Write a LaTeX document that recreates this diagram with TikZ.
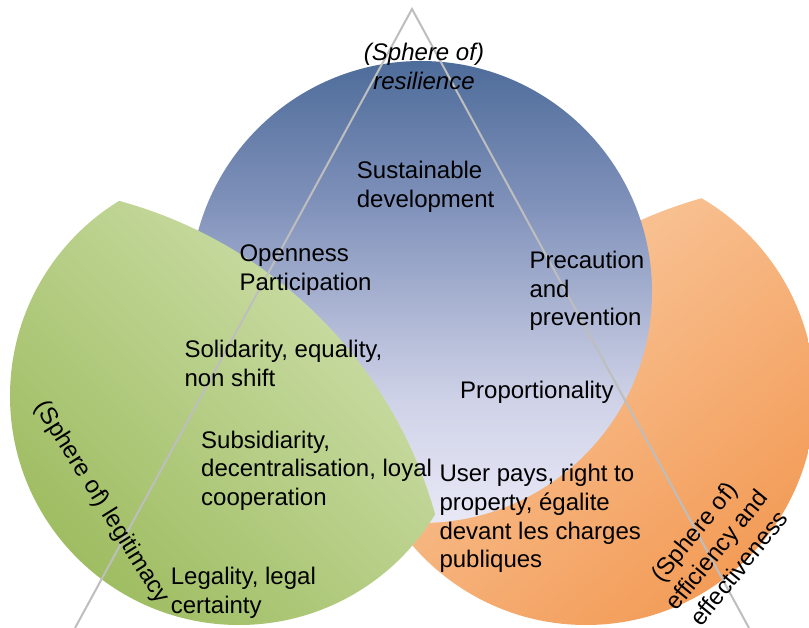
\documentclass[tikz,border=0pt]{standalone}
\usepackage{fontspec}
\setmainfont{Liberation Sans}
\definecolor{blA}{HTML}{4E6C9A}
\definecolor{blB}{HTML}{7E90B9}
\definecolor{blC}{HTML}{A8B2D1}
\definecolor{blD}{HTML}{D0D3E8}
\definecolor{blE}{HTML}{E8E8F6}
\definecolor{gdark}{HTML}{9FBD62}
\definecolor{glight}{HTML}{D3E3B3}
\definecolor{olight}{HTML}{FACFA8}
\definecolor{odark}{HTML}{F39C58}
\definecolor{trigray}{HTML}{BEBEBE}
\pgfdeclareverticalshading{bluesh}{100bp}{color(0bp)=(blE); color(25bp)=(blE); color(38bp)=(blD); color(49bp)=(blC); color(60bp)=(blB); color(75bp)=(blA); color(100bp)=(blA)}
\newcommand{\mlines}[1]{\begin{tabular}[t]{@{}l@{}}#1\end{tabular}}
\newcommand{\mlinesc}[1]{\begin{tabular}[t]{@{}c@{}}#1\end{tabular}}
\begin{document}
\begin{tikzpicture}[x=1pt,y=-1pt,
  lbl/.style={font=\fontsize{24}{28.7}\selectfont, inner sep=0pt, anchor=base west},
  lblc/.style={font=\fontsize{24}{28.7}\selectfont, inner sep=0pt, anchor=center},
  tri/.style={draw=trigray, line width=2pt, line join=miter}]
\useasboundingbox (0,0) rectangle (809,628);
\fill[white] (0,0) rectangle (809,628);
% orange sphere (efficiency)
\begin{scope}
  \clip (826,637) circle (456);
  \shade[top color=olight, bottom color=odark, shading angle=40] (586,396) circle (229);
\end{scope}
% blue sphere (resilience)
\shade[shading=bluesh] (421,292) circle (231);
% green sphere (legitimacy)
\begin{scope}
  \clip (0,637) circle (452);
  \shade[top color=glight, bottom color=gdark, shading angle=-45] (239,396) circle (229);
\end{scope}
% triangle
\coordinate (apex) at (412,9);
\coordinate (tl) at (75,628);
\coordinate (tr) at (749,628);
\draw[tri] (tl) -- (apex) -- (tr);
% labels
\node[lbl, anchor=base] (res) at (424,60.5) {\itshape\mlinesc{(Sphere of)\\resilience}};
\node[lbl] (sd) at (356.7,179) {\mlines{Sustainable\\development}};
\node[lbl] (op) at (239.3,262) {\mlines{Openness\\Participation}};
\node[lbl] (pp) at (529.3,268.5) {\mlines{Precaution\\and\\prevention}};
\node[lbl] (sol) at (184.3,357.5) {\mlines{Solidarity, equality,\\non shift}};
\node[lbl] (prop) at (460,399) {Proportionality};
\node[lbl] (sub) at (201,448) {\mlines{Subsidiarity,\\decentralisation, loyal\\cooperation}};
\node[lbl] (user) at (439.3,481.7) {\mlines{User pays, right to\\property, égalite\\devant les charges\\publiques}};
\node[lbl] (leg) at (170.7,584.5) {\mlines{Legality, legal\\certainty}};
\node[lblc, rotate=-58] (legit) at (101.5,502.5) {(Sphere of) legitimacy};
\node[lblc, rotate=51] (eff) at (718.5,551.5) {\mlinesc{(Sphere of)\\efficiency and\\effectiveness}};
\end{tikzpicture}
\end{document}
